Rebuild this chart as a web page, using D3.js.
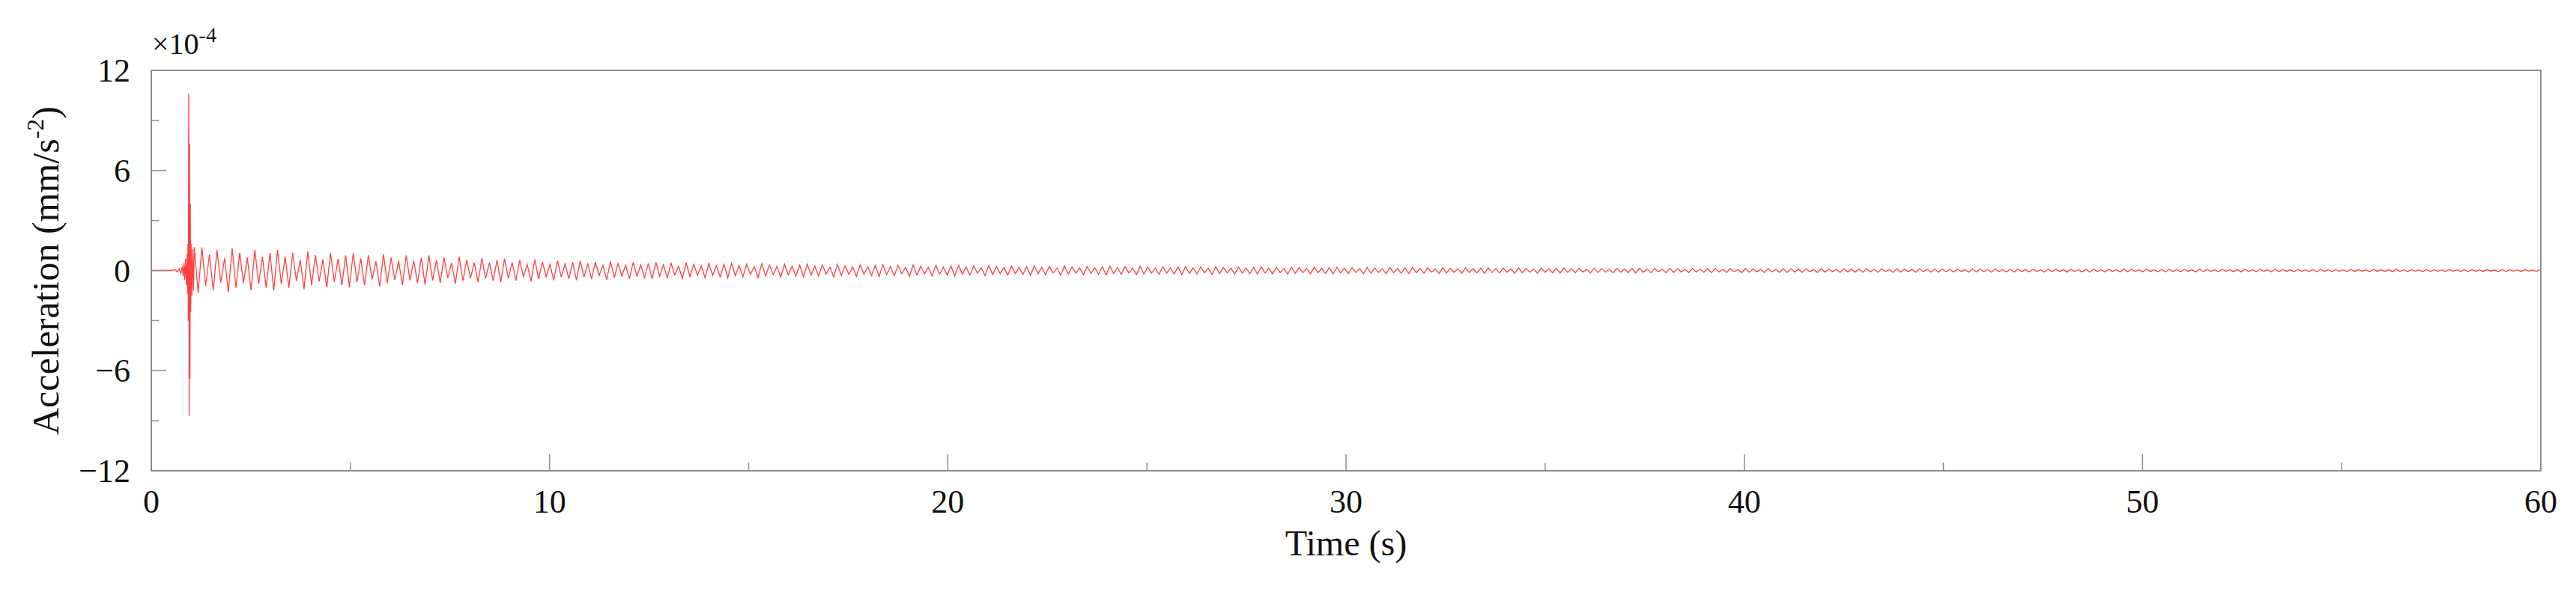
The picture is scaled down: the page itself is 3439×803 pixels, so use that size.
<!DOCTYPE html>
<html><head><meta charset="utf-8">
<script src="https://cdn.jsdelivr.net/npm/d3@7"></script>
<style>body{margin:0;background:#fff}svg{display:block}</style>
</head><body>
<svg id="c" width="3439" height="803"></svg>
<script>
// ---- data (units ×10^-4 mm/s^2) ----
const xTicks = [0, 10, 20, 30, 40, 50, 60];
const xMinor = [5, 15, 25, 35, 45, 55];
const yTicks = [-12, -6, 0, 6, 12];
const yMinor = [-9, -3, 3, 9];
// onset & impact burst [time s, value]
const burstT = [0, 0.50, 0.60, 0.65, 0.70, 0.74, 0.78, 0.80, 0.82, 0.84, 0.86, 0.88, 0.90, 0.91, 0.92, 0.93, 0.94, 0.95, 0.96, 0.97, 0.98, 0.99, 1.00, 1.02, 1.04, 1.06, 1.08];
const burstV = [0, 0, 0.05, -0.08, 0.12, -0.18, 0.25, -0.35, 0.45, -0.55, 0.7, -0.85, 1.0, -1.4, 1.6, -3.0, 10.6, -8.7, 7.6, -6.5, 4.0, -2.5, 1.6, -1.5, 1.3, -1.2, 1.4];
// upper / lower envelope of the decaying ringing, sampled every second from t=1 s to t=60 s
const envUp = [1.4,1.35,1.25,1.15,1.05,0.98,0.9,0.8,0.7,0.64,0.58,0.53,0.49,0.46,0.43,0.40,0.38,0.36,0.34,0.32,0.30,0.28,0.27,0.26,0.25,0.24,0.23,0.22,0.21,0.20,0.19,0.18,0.17,0.165,0.16,0.15,0.145,0.14,0.13,0.125,0.12,0.115,0.11,0.105,0.10,0.095,0.09,0.088,0.085,0.08,0.078,0.075,0.072,0.07,0.067,0.064,0.062,0.06,0.058,0.055];
const envLo = [-1.35,-1.3,-1.2,-1.1,-1.0,-0.95,-0.85,-0.76,-0.68,-0.62,-0.56,-0.52,-0.48,-0.45,-0.42,-0.40,-0.38,-0.36,-0.34,-0.32,-0.30,-0.28,-0.27,-0.26,-0.25,-0.24,-0.23,-0.22,-0.21,-0.20,-0.19,-0.18,-0.17,-0.165,-0.16,-0.15,-0.145,-0.14,-0.13,-0.125,-0.12,-0.115,-0.11,-0.105,-0.10,-0.095,-0.09,-0.088,-0.085,-0.08,-0.078,-0.075,-0.072,-0.07,-0.067,-0.064,-0.062,-0.06,-0.058,-0.055];
// beating pattern: relative peak heights within a repeating group of cycles
const beat = [1.0, 0.7, 0.9, 0.55, 1.0, 0.8, 0.6, 0.95, 0.65, 0.85];
const halfPeriod = 0.095; // s, read from cycle count (~5.3 cycles/s)

// ---- layout ----
const L = 202, R = 3392, T = 94, B = 629;
const x = d3.scaleLinear().domain([0, 60]).range([L, R]);
const y = d3.scaleLinear().domain([-12, 12]).range([B, T]);
const svg = d3.select('#c');
const font = '"Liberation Serif","Times New Roman",serif';

const pts = burstT.map((t, i) => [t, burstV[i]]);
const envAt = (arr, t) => { const k = Math.min(arr.length - 1, Math.max(0, t - 1)); const i = Math.floor(k), f = k - i; return i + 1 < arr.length ? arr[i] * (1 - f) + arr[i + 1] * f : arr[i]; };
let up = false, n = 0;
for (let t = 1.08 + halfPeriod; t <= 60; t += halfPeriod) {
  const b = beat[Math.floor(n / 2) % beat.length];
  pts.push([t, (up ? envAt(envUp, t) : envAt(envLo, t)) * b]);
  up = !up; n++;
}

svg.append('path').datum(pts)
  .attr('d', d3.line().x(d => x(d[0])).y(d => y(d[1])))
  .attr('fill', 'none').attr('stroke', '#ff0000').attr('stroke-width', 1.3).attr('stroke-opacity', 0.75);

svg.append('rect').attr('x', L).attr('y', T).attr('width', R - L).attr('height', B - T)
  .attr('fill', 'none').attr('stroke', '#8c8c8c').attr('stroke-width', 2);

const ax = svg.append('g').attr('stroke', '#8c8c8c').attr('stroke-width', 1.5);
xTicks.forEach(v => ax.append('line').attr('x1', x(v)).attr('x2', x(v)).attr('y1', B).attr('y2', B - 22));
xMinor.forEach(v => ax.append('line').attr('x1', x(v)).attr('x2', x(v)).attr('y1', B).attr('y2', B - 11));
yTicks.forEach(v => ax.append('line').attr('y1', y(v)).attr('y2', y(v)).attr('x1', L).attr('x2', L + 20));
yMinor.forEach(v => ax.append('line').attr('y1', y(v)).attr('y2', y(v)).attr('x1', L).attr('x2', L + 10));

const fmt = v => v < 0 ? '\u2212' + Math.abs(v) : String(v);
svg.append('g').selectAll('text').data(xTicks).join('text')
  .attr('x', d => x(d)).attr('y', B + 56).attr('text-anchor', 'middle')
  .attr('font-family', font).attr('font-size', 44).attr('fill', '#111').text(d => d);
svg.append('g').selectAll('text').data(yTicks).join('text')
  .attr('x', L - 28).attr('y', d => y(d) + 15).attr('text-anchor', 'end')
  .attr('font-family', font).attr('font-size', 44).attr('fill', '#111').text(fmt);

svg.append('text').attr('x', (L + R) / 2).attr('y', 742).attr('text-anchor', 'middle')
  .attr('font-family', font).attr('font-size', 48).attr('fill', '#111').text('Time (s)');
const yl = svg.append('text').attr('transform', `translate(${78},${(T + B) / 2}) rotate(-90)`)
  .attr('text-anchor', 'middle').attr('font-family', font).attr('font-size', 50).attr('fill', '#111');
yl.append('tspan').text('Acceleration (mm/s');
yl.append('tspan').attr('dy', -20).attr('font-size', 32).text('-2');
yl.append('tspan').attr('dy', 20).text(')');

const m = svg.append('text').attr('x', 203).attr('y', 72).attr('font-family', font).attr('font-size', 40).attr('fill', '#111');
m.append('tspan').text('\u00d710');
m.append('tspan').attr('dy', -16).attr('font-size', 28).text('-4');
</script>
</body></html>
